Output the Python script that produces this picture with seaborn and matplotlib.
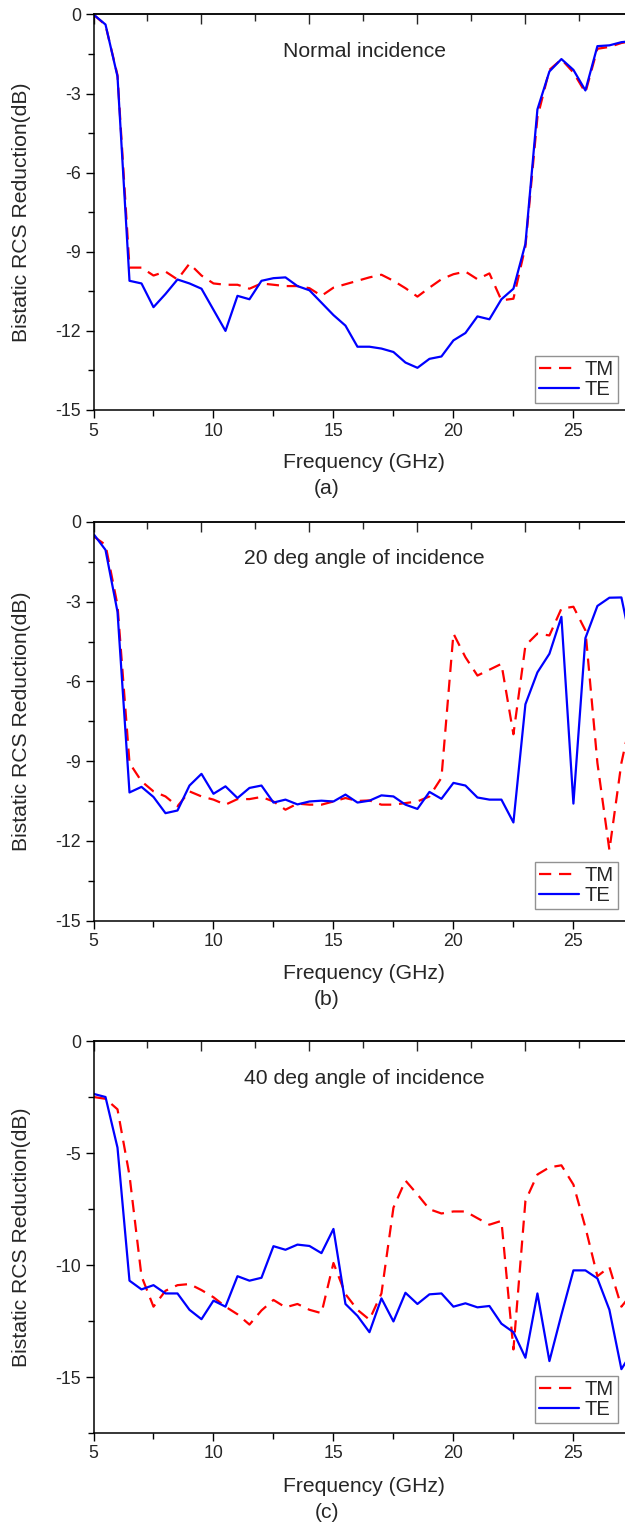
import numpy as np
import pandas as pd
import seaborn as sns
import matplotlib.pyplot as plt
from matplotlib.ticker import MultipleLocator, FixedLocator

sns.set_style('ticks')
plt.rcParams['font.family'] = ['Liberation Sans', 'DejaVu Sans']
plt.rcParams['axes.unicode_minus'] = False

# frequency grid (GHz)
freq = [5.0, 5.5, 6.0, 6.5, 7.0, 7.5, 8.0, 8.5, 9.0, 9.5,
        10.0, 10.5, 11.0, 11.5, 12.0, 12.5, 13.0, 13.5, 14.0, 14.5,
        15.0, 15.5, 16.0, 16.5, 17.0, 17.5, 18.0, 18.5, 19.0, 19.5,
        20.0, 20.5, 21.0, 21.5, 22.0, 22.5, 23.0, 23.5, 24.0, 24.5,
        25.0, 25.5, 26.0, 26.5, 27.0, 27.5]

# (a) normal incidence
tm_a = [0.0, -0.4, -2.3, -9.6, -9.6, -9.9, -9.75, -10.05, -9.45, -9.9,
        -10.2, -10.25, -10.25, -10.4, -10.2, -10.25, -10.3, -10.3, -10.38, -10.67,
        -10.36, -10.23, -10.1, -9.97, -9.87, -10.1, -10.38, -10.7, -10.36, -10.04,
        -9.85, -9.75, -10.04, -9.82, -10.84, -10.78, -8.8, -3.9, -2.1, -1.7,
        -2.2, -2.96, -1.3, -1.23, -1.08, -1.0]
te_a = [0.0, -0.38, -2.35, -10.1, -10.2, -11.1, -10.6, -10.05, -10.2, -10.4,
        -11.2, -12.0, -10.67, -10.8, -10.1, -10.0, -9.97, -10.3, -10.46, -10.93,
        -11.4, -11.8, -12.6, -12.6, -12.67, -12.8, -13.2, -13.4, -13.06, -12.97,
        -12.36, -12.08, -11.45, -11.56, -10.8, -10.4, -8.7, -3.6, -2.16, -1.69,
        -2.1, -2.88, -1.2, -1.17, -1.05, -1.0]

# (b) 20 deg
tm_b = [-0.54, -0.86, -3.13, -9.07, -9.76, -10.14, -10.33, -10.7, -10.14, -10.33,
        -10.45, -10.64, -10.43, -10.43, -10.35, -10.52, -10.83, -10.6, -10.64, -10.64,
        -10.52, -10.39, -10.5, -10.48, -10.64, -10.64, -10.58, -10.52, -10.33, -9.63,
        -4.2, -5.09, -5.78, -5.56, -5.34, -7.99, -4.65, -4.2, -4.27, -3.26,
        -3.19, -4.08, -9.07, -12.35, -9.07, -7.0]
te_b = [-0.45, -1.05, -3.38, -10.18, -9.97, -10.35, -10.96, -10.86, -9.92, -9.48,
        -10.23, -9.95, -10.39, -10.01, -9.92, -10.56, -10.45, -10.63, -10.52, -10.49,
        -10.52, -10.26, -10.56, -10.49, -10.29, -10.33, -10.64, -10.8, -10.16, -10.42,
        -9.82, -9.92, -10.37, -10.45, -10.45, -11.31, -6.86, -5.66, -4.96, -3.57,
        -10.6, -4.37, -3.16, -2.85, -2.84, -5.0]

# (c) 40 deg
tm_c = [-2.5, -2.58, -3.05, -6.0, -10.5, -11.86, -11.15, -10.9, -10.85, -11.12,
        -11.44, -11.86, -12.2, -12.66, -12.03, -11.56, -11.89, -11.74, -12.0, -12.15,
        -9.91, -11.3, -12.0, -12.44, -11.27, -7.44, -6.23, -6.85, -7.51, -7.7,
        -7.61, -7.61, -7.91, -8.2, -8.03, -13.77, -7.14, -5.96, -5.64, -5.55,
        -6.41, -8.32, -10.5, -10.09, -11.86, -11.2]
te_c = [-2.36, -2.5, -4.76, -10.7, -11.09, -10.9, -11.27, -11.27, -12.0, -12.42,
        -11.59, -11.86, -10.5, -10.7, -10.57, -9.16, -9.32, -9.09, -9.15, -9.47,
        -8.39, -11.74, -12.27, -13.0, -11.49, -12.52, -11.24, -11.74, -11.31, -11.27,
        -11.86, -11.71, -11.89, -11.83, -12.62, -13.0, -14.14, -11.27, -14.29, -12.22,
        -10.24, -10.24, -10.6, -12.0, -14.65, -13.8]

titles = ['Normal incidence', '20 deg angle of incidence', '40 deg angle of incidence']
letters = ['(a)', '(b)', '(c)']

fig = plt.figure(figsize=(6.25, 15.23), dpi=100)
H = 1523.0
# (top px, bottom px) of each panel
rows = [(14.5, 410.0), (522.0, 920.5), (1041.0, 1433.0)]
legend_y = [0.018, 0.029, 0.026]
left_px = 93.5
fs = 15.2

panels = [(tm_a, te_a, -15, 3), (tm_b, te_b, -15, 3), (tm_c, te_c, -17.5, 5)]

for i, (tm, te, ymin, ystep) in enumerate(panels):
    top, bot = rows[i]
    ax = fig.add_axes([left_px / 625, 1 - bot / H, 1 - left_px / 625, (bot - top) / H])
    df = pd.DataFrame({'f': freq, 'TM': tm, 'TE': te})
    sns.lineplot(data=df, x='f', y='TM', ax=ax, color='#ff0000', lw=1.6,
                 linestyle=(0, (5.5, 3.5)), label='TM')
    sns.lineplot(data=df, x='f', y='TE', ax=ax, color='#0000ff', lw=1.6, label='TE')

    ax.set_xlim(5, 27.15)
    ax.set_ylim(ymin, 0)
    ax.xaxis.set_major_locator(MultipleLocator(5))
    ax.xaxis.set_minor_locator(MultipleLocator(2.5))
    ax.yaxis.set_major_locator(MultipleLocator(ystep))
    ax.yaxis.set_minor_locator(MultipleLocator(ystep / 2))
    ax.tick_params(which='both', direction='out', top=False, right=False,
                   color='black', width=1.0, labelsize=12.8, pad=3)
    ax.tick_params(which='major', length=6)
    ax.tick_params(which='minor', length=4)
    ax.spines['right'].set_visible(False)
    for s in ['left', 'bottom', 'top']:
        ax.spines[s].set_linewidth(1.1)
        ax.spines[s].set_color('black')

    # top axis with its own tick spacing
    sec = ax.secondary_xaxis('top')
    sec.xaxis.set_major_locator(FixedLocator([5, 9.5, 14, 18.5, 23]))
    sec.xaxis.set_minor_locator(FixedLocator([7.25, 11.75, 16.25, 20.75, 25.25]))
    sec.tick_params(which='both', direction='in', labeltop=False, width=1.0)
    sec.tick_params(which='major', length=7)
    sec.tick_params(which='minor', length=5)
    sec.spines['top'].set_linewidth(1.1)

    h = bot - top
    ax.set_xlabel('Frequency (GHz)', fontsize=fs)
    ax.xaxis.set_label_coords(0.509, -53 / h)
    ax.xaxis.label.set_va('center')
    ax.set_ylabel('Bistatic RCS Reduction(dB)', fontsize=fs)
    ax.yaxis.set_label_coords((22 - left_px) / 531.5, 0.5)
    ax.yaxis.label.set_va('center')

    ax.text(0.509, 1 - 37 / h, titles[i], transform=ax.transAxes,
            ha='center', va='center', fontsize=fs)
    ax.text(0.439, -79 / h, letters[i], transform=ax.transAxes,
            ha='center', va='center', fontsize=fs)

    leg = ax.legend(loc='lower right', bbox_to_anchor=(0.987, legend_y[i]),
                    borderaxespad=0, fontsize=14.5, frameon=True, fancybox=False,
                    handlelength=2.0, handletextpad=0.3, labelspacing=0.05,
                    borderpad=0.2)
    leg.get_frame().set_edgecolor('#777777')
    leg.get_frame().set_linewidth(1.0)

fig.savefig('out.png', dpi=100)
